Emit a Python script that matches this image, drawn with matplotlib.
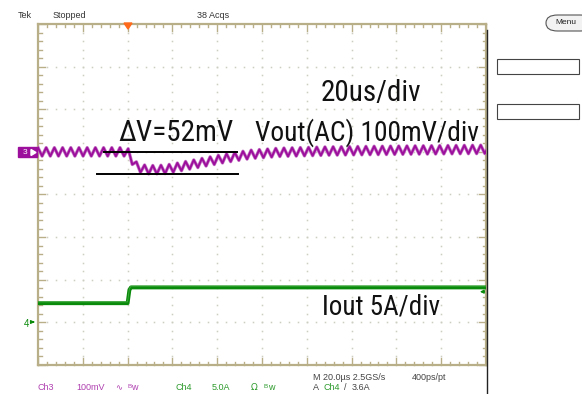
import numpy as np
import matplotlib
matplotlib.use("Agg")
import matplotlib.pyplot as plt
from matplotlib.patches import Rectangle, Polygon, FancyBboxPatch

W, H = 582, 394

# ===== scope settings =====
T_DIV = 20.0          # us/div
CH3_SCALE = 100.0     # mV/div
CH4_SCALE = 5.0       # A/div
CH3_POS = 1.0         # ground marker position, divisions
CH4_POS = -3.0
TRIG_LEVEL = 3.6      # A

# Ch3 - Vout (AC), slow envelope (us, mV)
ch3_t = [-40, 0, 1.5, 3.8, 6.4, 10, 16.7, 23.4, 32.3, 43.5, 54.6, 68, 90, 121.6, 160]
ch3_mv = [0, 0, -15, -33, -40, -42, -41, -35, -26, -15, -6, -1, 2, 4, 6]
RIPPLE_PP = 20.0      # mV peak-peak
RIPPLE_PERIOD = 3.66  # us

# Ch4 - Iout step (us, A)
ch4_t = [-40, 0, 0.8, 1.5, 160]
ch4_a = [2.25, 2.25, 3.8, 4.1, 4.1]

# delta-V cursor lines (us start, us end, mV)
cur_hi = (-10.5, 48.8, 0)
cur_lo = (-13.7, 49.3, -52)

GRAT = "#b8ae88"
DOT = "#cdcdc2"
PURPLE = "#9c0f9c"
GREEN = "#0a8a0a"


def F(x, y):
    return (x / W, 1 - y / H)


fig = plt.figure(figsize=(W / 100, H / 100), dpi=100)
fig.patch.set_facecolor("white")

ax = fig.add_axes([38 / W, 1 - 365 / H, 448 / W, 341 / H])
ax.set_xlim(-40, 160)
ax.set_ylim(-4, 4)
ax.axis("off")

# graticule dots
for k in range(1, 10):
    x = -40 + k * T_DIV
    ys = np.arange(-4, 4.01, 0.2)[1:-1]
    ax.plot(np.full_like(ys, x), ys, "s", ms=1.1, color=DOT, mec="none", zorder=1)
for j in range(-3, 4):
    xs = np.arange(-40, 160.1, 4)[1:-1]
    ax.plot(xs, np.full_like(xs, j), "s", ms=1.1, color=DOT, mec="none", zorder=1)

# border and edge ticks
for s in [(-40, -40, -4, 4), (-40, 160, 4, 4), (-40, 160, -4, -4), (160, 160, -4, 4)]:
    ax.plot(s[:2], s[2:], color=GRAT, lw=1.6, clip_on=False, zorder=2)
px_y = 8 / 341     # div per pixel vertically
px_x = 200 / 448   # us per pixel horizontally
for xt in np.arange(-40, 160.1, 4):
    major = abs((xt + 40) % 20) < 1e-6
    ln = (7 if major else 3.5) * px_y
    ax.plot([xt, xt], [4, 4 - ln], color=GRAT, lw=1.0, clip_on=False, zorder=2)
    ax.plot([xt, xt], [-4, -4 + ln], color=GRAT, lw=1.0, clip_on=False, zorder=2)
for yt in np.arange(-4, 4.01, 0.2):
    major = abs(yt - round(yt)) < 1e-6
    ln = (7 if major else 3.5) * px_x
    ax.plot([-40, -40 + ln], [yt, yt], color=GRAT, lw=1.0, clip_on=False, zorder=2)
    ax.plot([160, 160 - ln], [yt, yt], color=GRAT, lw=1.0, clip_on=False, zorder=2)

# Ch3 trace: envelope plus triangular switching ripple
half = RIPPLE_PERIOD / 2
tz = np.arange(-40, 160 + half, half)
sign = np.where(np.arange(len(tz)) % 2 == 0, 1, -1)
vz = np.interp(tz, ch3_t, ch3_mv) + sign * RIPPLE_PP / 2
ax.plot(tz, CH3_POS + vz / CH3_SCALE, color="#c77ac7", lw=2.4, zorder=3, clip_on=True)
ax.plot(tz, CH3_POS + vz / CH3_SCALE, color=PURPLE, lw=1.4, zorder=4, clip_on=True)

# Ch4 trace
ax.plot(ch4_t, CH4_POS + np.array(ch4_a) / CH4_SCALE, color=GREEN, lw=2.8, zorder=4,
        solid_capstyle="butt")
ax.plot(ch4_t, CH4_POS + np.array(ch4_a) / CH4_SCALE + 0.03, color="#4cb34c", lw=0.6,
        zorder=5, alpha=0.8)

# delta-V cursors
for c in (cur_hi, cur_lo):
    ax.plot(c[:2], [CH3_POS + c[2] / CH3_SCALE] * 2, color="black", lw=1.4, zorder=6)

# trigger level arrow on right edge
yl = CH4_POS + TRIG_LEVEL / CH4_SCALE
ax.annotate("", xy=(156, yl), xytext=(160.5, yl),
            arrowprops=dict(arrowstyle="-|>", color=GREEN, lw=1.0, mutation_scale=5),
            annotation_clip=False, zorder=6)

# right edge of the screen
fig.add_artist(plt.Line2D([486.5 / W] * 2, [1 - 30 / H, 0], color="#222222", lw=1.0))

# trigger position marker
fig.add_artist(Polygon([F(124, 23), F(132, 23), F(128, 29)], closed=True,
                       color="#ff6a1a", transform=fig.transFigure))

# channel markers
fig.add_artist(Rectangle(F(18, 157), 19 / W, 10 / H, color=PURPLE, transform=fig.transFigure))
fig.text(*F(25, 152.5), "3", color="white", fontsize=6, ha="center", va="center",
         family="Liberation Sans")
fig.add_artist(Polygon([F(31, 149.5), F(31, 155.5), F(36, 152.5)], closed=True,
                       color="white", transform=fig.transFigure))
fig.text(*F(26, 324), "4", color=GREEN, fontsize=7, ha="center", va="center",
         family="Liberation Sans")
ax.annotate("", xy=F(37.5, 322), xytext=F(30, 322), xycoords="figure fraction",
            arrowprops=dict(arrowstyle="-|>", color=GREEN, lw=0.9, mutation_scale=5),
            annotation_clip=False)

# header text
small = dict(fontsize=6.5, family="Liberation Sans", va="center")
fig.text(*F(18, 16), "Tek", color="#333333", **small)
fig.text(*F(53, 16), "Stopped", color="#333333", **small)
fig.text(*F(197, 16), "38 Acqs", color="#333333", **small)

# side menu
fig.add_artist(FancyBboxPatch(F(546, 31), 46 / W, 16 / H,
                              boxstyle="round,pad=0,rounding_size=0.02",
                              fc="#f2f2f2", ec="#555555", lw=0.8, transform=fig.transFigure))
fig.text(*F(566, 23), "Menu", color="#222222", fontsize=6, family="Liberation Sans",
         ha="center", va="center")
for y0 in (59, 104):
    fig.add_artist(Rectangle(F(497, y0 + 15), 82 / W, 15 / H, fc="white", ec="#444444",
                             lw=0.8, transform=fig.transFigure))

# bottom status line
PT = "#b040b0"
GT = "#2c9a2c"
DK = "#444444"
fig.text(*F(38, 388), "Ch3", color=PT, **small)
fig.text(*F(76, 388), "100mV", color=PT, **small)
fig.text(*F(115, 388), "∿", color=PT, fontsize=6, family="DejaVu Sans", va="center")
fig.text(*F(127, 386), "B", color=PT, fontsize=4.5, family="Liberation Sans", va="center")
fig.text(*F(131, 388), "w", color=PT, **small)
fig.text(*F(175, 388), "Ch4", color=GT, **small)
fig.text(*F(212, 388), "5.0A", color=GT, **small)
fig.text(*F(251, 388), "Ω", color=GT, fontsize=6.5, family="DejaVu Sans", va="center")
fig.text(*F(264, 386), "B", color=GT, fontsize=4.5, family="Liberation Sans", va="center")
fig.text(*F(268, 388), "w", color=GT, **small)
fig.text(*F(313, 377), "M 20.0µs 2.5GS/s", color=DK, **small)
fig.text(*F(412, 377), "400ps/pt", color=DK, **small)
fig.text(*F(313, 388), "A", color=DK, **small)
fig.text(*F(324, 388), "Ch4", color=GT, **small)
fig.text(*F(344, 388), "/", color=DK, **small)
fig.text(*F(352, 388), "3.6A", color=DK, **small)

# annotations
big = ["Roboto Condensed", "Liberation Sans", "DejaVu Sans"]
fig.text(*F(321, 101), "20us/div", fontsize=21, family=big, color="#111111", va="baseline")
fig.text(*F(255, 141), "Vout(AC) 100mV/div", fontsize=19.8, family=big, color="#111111",
         va="baseline")
fig.text(*F(118, 141), "ΔV=52mV", fontsize=21, family=big, color="#111111", va="baseline")
fig.text(*F(322, 315), "Iout 5A/div", fontsize=19.5, family=big, color="#111111",
         va="baseline")

fig.savefig("out.png", dpi=100)
